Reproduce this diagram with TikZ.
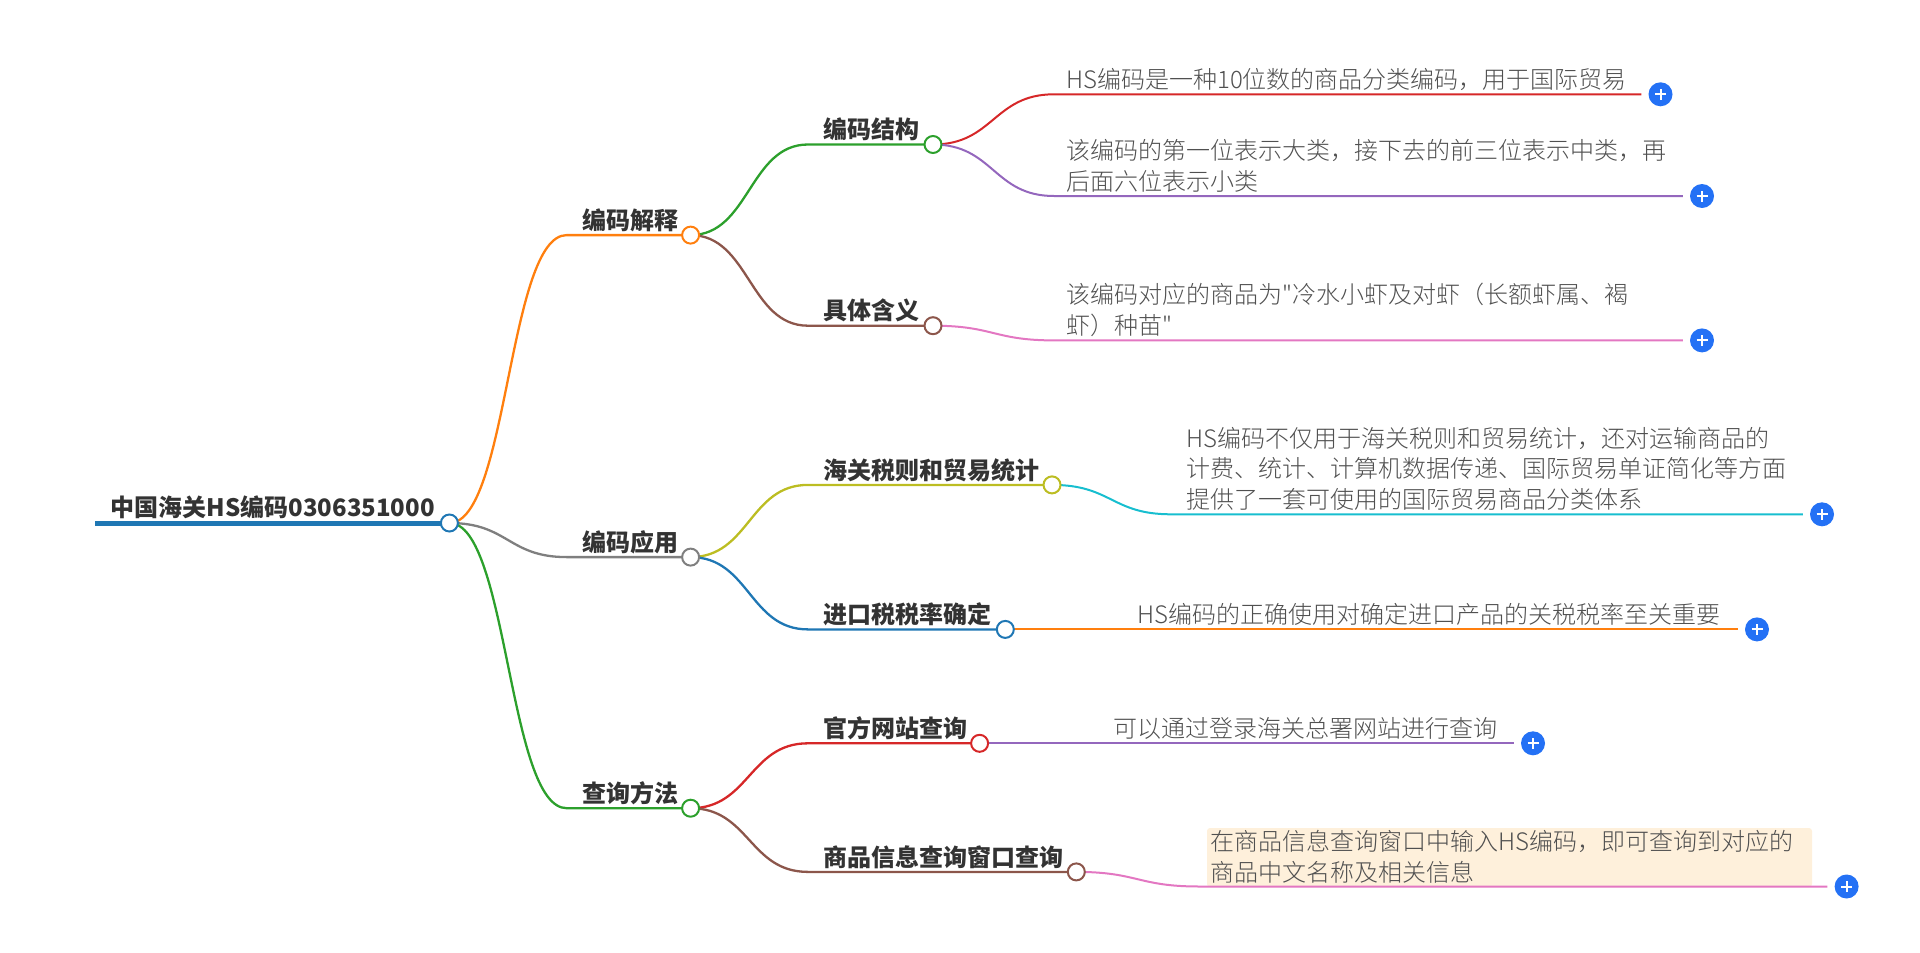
\documentclass[tikz,border=0pt]{standalone}
\usepackage{fontspec}
\setmainfont{Noto Sans CJK SC}
\IfFontExistsTF{Noto Sans CJK SC Light}{\newfontfamily\leaffont{Noto Sans CJK SC Light}}{\newfontfamily\leaffont{Noto Sans CJK SC}}
\usetikzlibrary{backgrounds,calc}
\definecolor{tblue}{HTML}{1F77B4}
\definecolor{torange}{HTML}{FF7F0E}
\definecolor{tgreen}{HTML}{2CA02C}
\definecolor{tred}{HTML}{D62728}
\definecolor{tpurple}{HTML}{9467BD}
\definecolor{tbrown}{HTML}{8C564B}
\definecolor{tpink}{HTML}{E377C2}
\definecolor{tgray}{HTML}{7F7F7F}
\definecolor{tolive}{HTML}{BCBD22}
\definecolor{tcyan}{HTML}{17BECF}
\definecolor{plusblue}{HTML}{2471F5}
\definecolor{txtdark}{HTML}{333333}
\definecolor{txtleaf}{HTML}{505050}
\definecolor{leafbg}{HTML}{FEF0DB}
\begin{document}
\begin{tikzpicture}[x=1pt,y=-1pt,
  boldtxt/.style={font=\fontsize{24}{30}\selectfont\bfseries, text=txtdark, inner sep=0pt, anchor=base west},
  leaftxt/.style={font=\leaffont\fontsize{24}{30.5}\selectfont, text=txtleaf, inner sep=0pt, anchor=base west, align=left},
  dot/.style={circle, draw=#1, fill=white, line width=2pt, minimum size=17pt, inner sep=0pt},
  plusbtn/.style={circle, fill=plusblue, minimum size=24pt, inner sep=0pt,
    path picture={\draw[white, line width=2pt]
      ([xshift=-5.5pt]path picture bounding box.center) -- ([xshift=5.5pt]path picture bounding box.center)
      ([yshift=-5.5pt]path picture bounding box.center) -- ([yshift=5.5pt]path picture bounding box.center);}},
  br/.style={draw=#1, line width=2.3pt},
  lf/.style={draw=#1, line width=2pt},
  mm/.style={to path={let \p1=(\tikztostart), \p2=(\tikztotarget) in
    .. controls ({0.5*\x1+0.5*\x2},\y1) and ({0.5*\x1+0.5*\x2},\y2) .. (\tikztotarget) \tikztonodes}}
]
\useasboundingbox (0,0) rectangle (1920,953);

% ---------- root ----------
\coordinate (R0) at (95,523);
\node[dot=tblue] (R) at (449.4,523) {};
\node[boldtxt, anchor=base east] (Rt) at (435,516) {中国海关HS编码0306351000};

% ---------- level 1 ----------
\node[dot=torange] (A) at (690.6,235.1) {};
\coordinate (As) at (566.7,235.1);
\node[boldtxt] (At) at (582,229.2) {编码解释};

\node[dot=tgray] (B) at (690.6,557.1) {};
\coordinate (Bs) at (566.7,557.1);
\node[boldtxt] (Bt) at (582,551.2) {编码应用};

\node[dot=tgreen] (C) at (690.6,808.2) {};
\coordinate (Cs) at (566.7,808.2);
\node[boldtxt] (Ct) at (582,802.3) {查询方法};

% ---------- level 2 ----------
\node[dot=tgreen] (A1) at (933,144.5) {};
\coordinate (A1s) at (808,144.5);
\node[boldtxt] (A1t) at (823,138.6) {编码结构};

\node[dot=tbrown] (A2) at (933,325.7) {};
\coordinate (A2s) at (808,325.7);
\node[boldtxt] (A2t) at (823,319.8) {具体含义};

\node[dot=tolive] (B1) at (1052,484.9) {};
\coordinate (B1s) at (808,484.9);
\node[boldtxt] (B1t) at (823,479) {海关税则和贸易统计};

\node[dot=tblue] (B2) at (1005.3,629.4) {};
\coordinate (B2s) at (808,629.4);
\node[boldtxt] (B2t) at (823,623.5) {进口税税率确定};

\node[dot=tred] (C1) at (979.6,743.3) {};
\coordinate (C1s) at (808,743.3);
\node[boldtxt] (C1t) at (823,737.4) {官方网站查询};

\node[dot=tbrown] (C2) at (1076.3,871.9) {};
\coordinate (C2s) at (808,871.9);
\node[boldtxt] (C2t) at (823,866) {商品信息查询窗口查询};

% ---------- leaves (base = baseline of the last line) ----------
\coordinate (L1s) at (1054,94.3);
\node[plusbtn] (P1) at (1660.5,94.3) {};
\node[leaftxt] (T1) at (1066,88.3) {HS编码是一种10位数的商品分类编码，用于国际贸易};

\coordinate (L2s) at (1054,196);
\node[plusbtn] (P2) at (1702,196) {};
\node[leaftxt] (T2) at (1066,190) {该编码的第一位表示大类，接下去的前三位表示中类，再\\后面六位表示小类};

\coordinate (L3s) at (1054,340.4);
\node[plusbtn] (P3) at (1702,340.4) {};
\node[leaftxt] (T3) at (1066,334.4) {该编码对应的商品为"冷水小虾及对虾（长额虾属、褐\\虾）种苗"};

\coordinate (L4s) at (1171,514.3);
\node[plusbtn] (P4) at (1822,514.3) {};
\node[leaftxt] (T4) at (1186,508.3) {HS编码不仅用于海关税则和贸易统计，还对运输商品的\\计费、统计、计算机数据传递、国际贸易单证简化等方面\\提供了一套可使用的国际贸易商品分类体系};

\node[plusbtn] (P5) at (1757,629.4) {};
\node[leaftxt] (T5) at (1137,623.4) {HS编码的正确使用对确定进口产品的关税税率至关重要};

\node[plusbtn] (P6) at (1533,743.3) {};
\node[leaftxt] (T6) at (1113,737.3) {可以通过登录海关总署网站进行查询};

\coordinate (L7s) at (1199,886.5);
\node[plusbtn] (P7) at (1846.6,886.5) {};
\node[leaftxt] (T7) at (1210,881) {在商品信息查询窗口中输入HS编码，即可查询到对应的\\商品中文名称及相关信息};

% ---------- connectors ----------
\begin{pgfonlayer}{background}
  \path[fill=leafbg, rounded corners=3pt] (1207,828) rectangle (1812,887);
  \draw[tblue, line width=5pt] (R0) -- (R.center);
  % root -> level 1
  \draw[br=torange] (R.center) to[mm] (As) -- (A.center);
  \draw[br=tgray] (R.center) to[mm] (Bs) -- (B.center);
  \draw[br=tgreen] (R.center) to[mm] (Cs) -- (C.center);
  % level 1 -> level 2
  \draw[br=tgreen] (A.center) to[mm] (A1s) -- (A1.center);
  \draw[br=tbrown] (A.center) to[mm] (A2s) -- (A2.center);
  \draw[br=tolive] (B.center) to[mm] (B1s) -- (B1.center);
  \draw[br=tblue] (B.center) to[mm] (B2s) -- (B2.center);
  \draw[br=tred] (C.center) to[mm] (C1s) -- (C1.center);
  \draw[br=tbrown] (C.center) to[mm] (C2s) -- (C2.center);
  % level 2 -> leaves
  \draw[lf=tred, shorten >=7pt] (A1.center) to[mm] (L1s) -- (P1);
  \draw[lf=tpurple, shorten >=7pt] (A1.center) to[mm] (L2s) -- (P2);
  \draw[lf=tpink, shorten >=7pt] (A2.center) to[mm] (L3s) -- (P3);
  \draw[lf=tcyan, shorten >=7pt] (B1.center) to[mm] (L4s) -- (P4);
  \draw[lf=torange, shorten >=7pt] (B2.center) -- (P5);
  \draw[lf=tpurple, shorten >=7pt] (C1.center) -- (P6);
  \draw[lf=tpink, shorten >=7pt] (C2.center) to[mm] (L7s) -- (P7);
\end{pgfonlayer}
\end{tikzpicture}
\end{document}
